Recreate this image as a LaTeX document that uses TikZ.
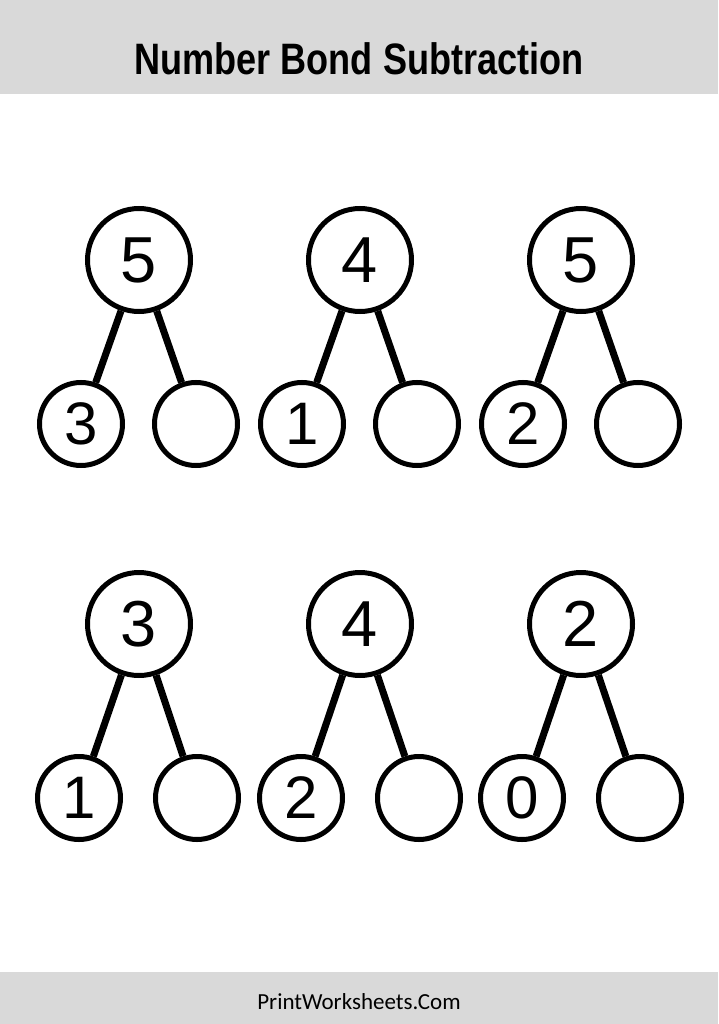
\documentclass[tikz,border=0pt]{standalone}
\usepackage{fontspec}
\usepackage{xcolor}
\usepackage{tikz}
\setmainfont{Liberation Sans}
\newfontfamily\headfont{Liberation Sans}[FakeStretch=0.82]
\newfontfamily\footfont{Carlito}
\definecolor{bandgray}{HTML}{D9D9D9}

\begin{document}
\begin{tikzpicture}[x=1pt,y=-1pt,
    whole/.style={circle,draw=black,line width=5pt,minimum size=103pt,inner sep=0pt,
        font=\fontsize{65}{65}\selectfont},
    part/.style={circle,draw=black,line width=5pt,minimum size=83pt,inner sep=0pt,
        font=\fontsize{60}{60}\selectfont},
    bond/.style={black,line width=7pt}]
\useasboundingbox (0,0) rectangle (718,1024);

    \fill[white] (0,0) rectangle (718,1024);
    \fill[bandgray] (0,0) rectangle (718,94);
    \fill[bandgray] (0,972) rectangle (718,1024);
    \node (title) at (359,59) {\headfont\bfseries\fontsize{44}{44}\selectfont Number Bond Subtraction};
    \node (site) at (359,1002) {\footfont\fontsize{23}{23}\selectfont PrintWorksheets.Com};

    % first row
    \node[whole] (wa) at (139,260) {5};
    \node[part] (pa1) at (81,424) {3};
    \node[part] (pa2) at (196,424) {};
    \draw[bond] (wa) -- (pa1);
    \draw[bond] (wa) -- (pa2);

    \node[whole] (wb) at (360,260) {4};
    \node[part] (pb1) at (302,424) {1};
    \node[part] (pb2) at (417,424) {};
    \draw[bond] (wb) -- (pb1);
    \draw[bond] (wb) -- (pb2);

    \node[whole] (wc) at (581,260) {5};
    \node[part] (pc1) at (523,424) {2};
    \node[part] (pc2) at (638,424) {};
    \draw[bond] (wc) -- (pc1);
    \draw[bond] (wc) -- (pc2);

    % second row
    \node[whole] (wd) at (139,624) {3};
    \node[part] (pd1) at (79,798) {1};
    \node[part] (pd2) at (197,798) {};
    \draw[bond] (wd) -- (pd1);
    \draw[bond] (wd) -- (pd2);

    \node[whole] (we) at (360,624) {4};
    \node[part] (pe1) at (301,798) {2};
    \node[part] (pe2) at (419,798) {};
    \draw[bond] (we) -- (pe1);
    \draw[bond] (we) -- (pe2);

    \node[whole] (wf) at (581,624) {2};
    \node[part] (pf1) at (522,798) {0};
    \node[part] (pf2) at (640,798) {};
    \draw[bond] (wf) -- (pf1);
    \draw[bond] (wf) -- (pf2);

\end{tikzpicture}
\end{document}
